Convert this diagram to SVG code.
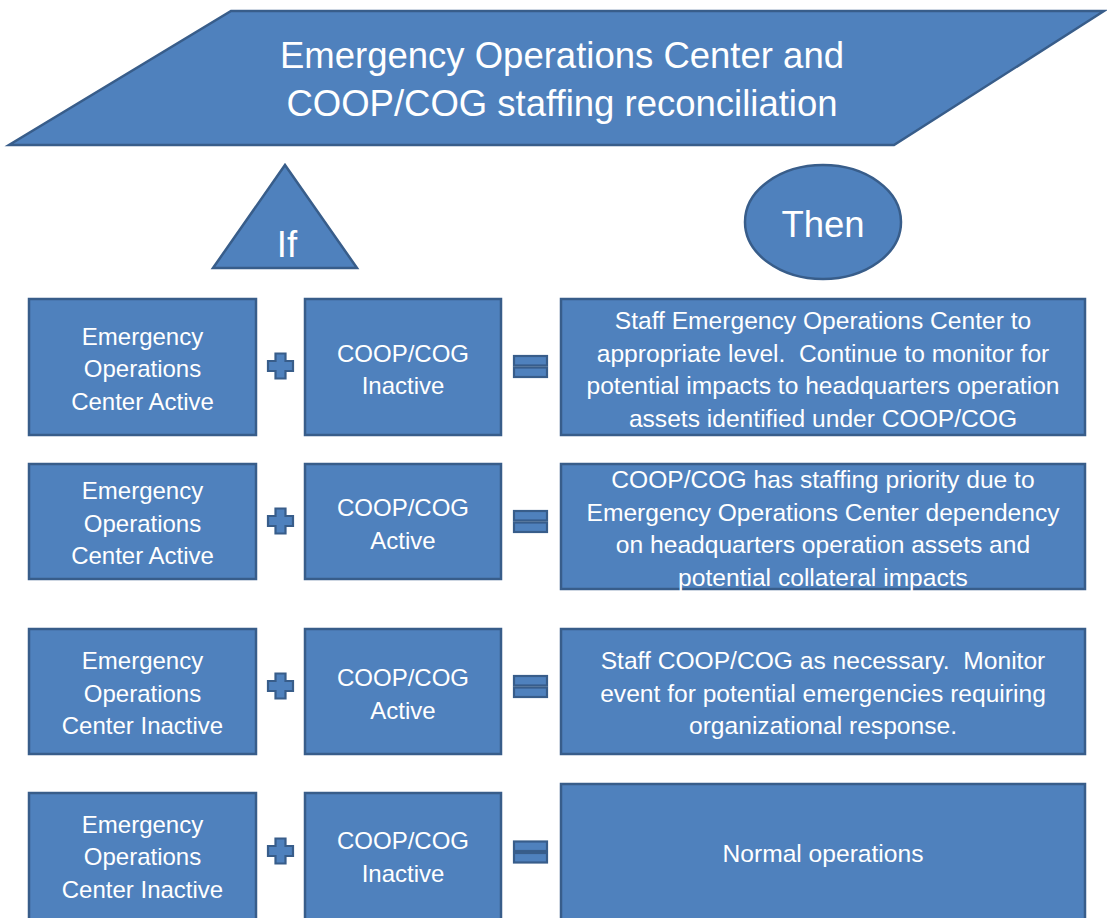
<svg xmlns="http://www.w3.org/2000/svg" width="1107" height="918" viewBox="0 0 1107 918">
<style>
.shape{fill:#4F81BD;stroke:#385D8A;stroke-width:2.5;stroke-linejoin:miter}
.op{fill:#4F81BD;stroke:#385D8A;stroke-width:2.2}
text{font-family:"Liberation Sans",Arial,sans-serif;fill:#FFFFFF;text-anchor:middle;white-space:pre}
.big{font-size:36.5px}
.t{font-size:24px}
.w{font-size:24.6px}
</style>
<defs>
<path id="plus" class="op" d="M-5,-12.5 H5 V-5 H12.5 V5 H5 V12.5 H-5 V5 H-12.5 V-5 H-5 Z"/>
<g id="eq">
<rect class="op" x="-16.5" y="-10.5" width="33" height="9.5"/>
<rect class="op" x="-16.5" y="1" width="33" height="9.5"/>
</g>
</defs>
<rect width="1107" height="918" fill="#FFFFFF"/>

<g id="title">
<polygon class="shape" points="231,11 1104,11 894,145 9,145"/>
<text class="big" x="562" y="68">Emergency Operations Center and</text>
<text class="big" x="562" y="116">COOP/COG staffing reconciliation</text>
</g>

<g id="if">
<polygon class="shape" points="285,165 357,268 213,268"/>
<text class="big" x="287" y="257">If</text>
</g>

<g id="then">
<ellipse class="shape" cx="823" cy="222" rx="78" ry="57"/>
<text class="big" x="823" y="237">Then</text>
</g>

<g id="connectors">
<use href="#plus" x="280.5" y="366"/>
<use href="#plus" x="280.5" y="521"/>
<use href="#plus" x="280.5" y="686"/>
<use href="#plus" x="280.5" y="851"/>
<use href="#eq" x="530.5" y="366.5"/>
<use href="#eq" x="530.5" y="521.5"/>
<use href="#eq" x="530.5" y="686.5"/>
<use href="#eq" x="530.5" y="852"/>
</g>

<g id="r1a">
<rect class="shape" x="29" y="299" width="227" height="136"/>
<text class="t" x="142.5" y="344.5">Emergency</text>
<text class="t" x="142.5" y="377">Operations</text>
<text class="t" x="142.5" y="409.5">Center Active</text>
</g>
<g id="r1b">
<rect class="shape" x="305" y="299" width="196" height="136"/>
<text class="t" x="403" y="361.5">COOP/COG</text>
<text class="t" x="403" y="394">Inactive</text>
</g>
<g id="r1c">
<rect class="shape" x="561" y="299" width="524" height="136"/>
<text class="w" x="823" y="329">Staff Emergency Operations Center to</text>
<text class="w" x="823" y="361.5">appropriate level.  Continue to monitor for</text>
<text class="w" x="823" y="394">potential impacts to headquarters operation</text>
<text class="w" x="823" y="426.5">assets identified under COOP/COG</text>
</g>

<g id="r2a">
<rect class="shape" x="29" y="464" width="227" height="115"/>
<text class="t" x="142.5" y="499">Emergency</text>
<text class="t" x="142.5" y="531.5">Operations</text>
<text class="t" x="142.5" y="564">Center Active</text>
</g>
<g id="r2b">
<rect class="shape" x="305" y="464" width="196" height="115"/>
<text class="t" x="403" y="516">COOP/COG</text>
<text class="t" x="403" y="548.5">Active</text>
</g>
<g id="r2c">
<rect class="shape" x="561" y="464" width="524" height="125"/>
<text class="w" x="823" y="488">COOP/COG has staffing priority due to</text>
<text class="w" x="823" y="520.5">Emergency Operations Center dependency</text>
<text class="w" x="823" y="553">on headquarters operation assets and</text>
<text class="w" x="823" y="585.5">potential collateral impacts</text>
</g>

<g id="r3a">
<rect class="shape" x="29" y="629" width="227" height="125"/>
<text class="t" x="142.5" y="669">Emergency</text>
<text class="t" x="142.5" y="701.5">Operations</text>
<text class="t" x="142.5" y="734">Center Inactive</text>
</g>
<g id="r3b">
<rect class="shape" x="305" y="629" width="196" height="125"/>
<text class="t" x="403" y="686">COOP/COG</text>
<text class="t" x="403" y="718.5">Active</text>
</g>
<g id="r3c">
<rect class="shape" x="561" y="629" width="524" height="125"/>
<text class="w" x="823" y="669">Staff COOP/COG as necessary.  Monitor</text>
<text class="w" x="823" y="701.5">event for potential emergencies requiring</text>
<text class="w" x="823" y="734">organizational response.</text>
</g>

<g id="r4a">
<rect class="shape" x="29" y="793" width="227" height="140"/>
<text class="t" x="142.5" y="832.5">Emergency</text>
<text class="t" x="142.5" y="865">Operations</text>
<text class="t" x="142.5" y="897.5">Center Inactive</text>
</g>
<g id="r4b">
<rect class="shape" x="305" y="793" width="196" height="140"/>
<text class="t" x="403" y="849">COOP/COG</text>
<text class="t" x="403" y="881.5">Inactive</text>
</g>
<g id="r4c">
<rect class="shape" x="561" y="784" width="524" height="150"/>
<text class="w" x="823" y="862">Normal operations</text>
</g>
</svg>
